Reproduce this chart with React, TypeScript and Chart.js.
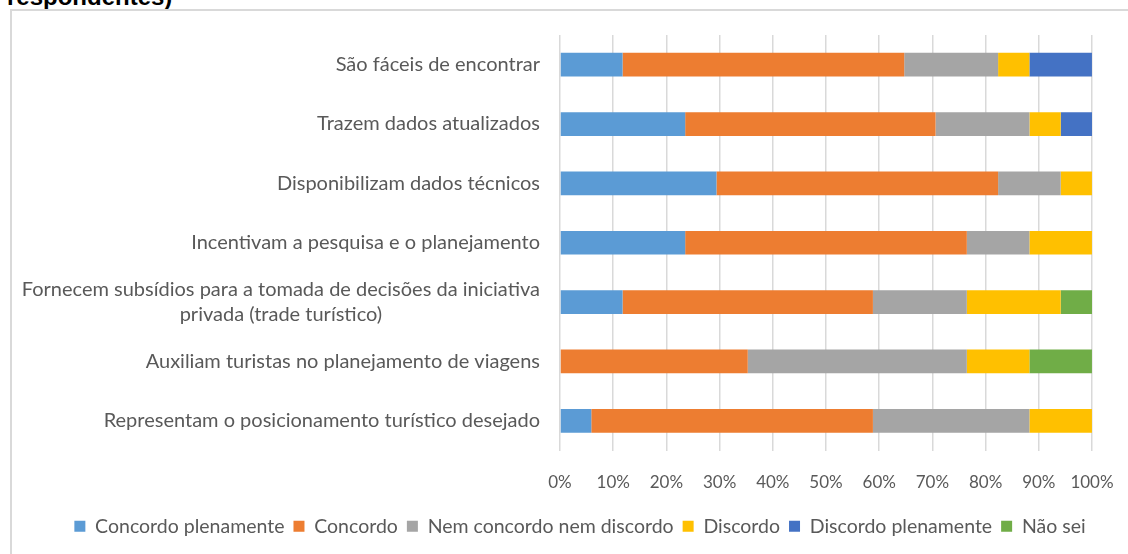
import React, { useEffect, useRef } from "react";
import { Chart, registerables } from "chart.js";

Chart.register(...registerables);

const categories: string[][] = [
  ["São fáceis de encontrar"],
  ["Trazem dados atualizados"],
  ["Disponibilizam dados técnicos"],
  ["Incentivam a pesquisa e o planejamento"],
  ["Fornecem subsídios para a tomada de decisões da iniciativa", "privada (trade turístico)"],
  ["Auxiliam turistas no planejamento de viagens"],
  ["Representam o posicionamento turístico desejado"],
];

const concordoPlenamente = [11.76, 23.53, 29.41, 23.53, 11.76, 0, 5.88];
const concordo = [52.94, 47.06, 52.94, 52.94, 47.06, 35.29, 52.94];
const nemConcordoNemDiscordo = [17.65, 17.65, 11.76, 11.76, 17.65, 41.18, 29.41];
const discordo = [5.88, 5.88, 5.88, 11.76, 17.65, 11.76, 11.76];
const discordoPlenamente = [11.76, 5.88, 0, 0, 0, 0, 0];
const naoSei = [0, 0, 0, 0, 5.88, 11.76, 0];

const seriesNames = [
  "Concordo plenamente",
  "Concordo",
  "Nem concordo nem discordo",
  "Discordo",
  "Discordo plenamente",
  "Não sei",
];
const seriesColors = ["#5B9BD5", "#ED7D31", "#A5A5A5", "#FFC000", "#4472C4", "#70AD47"];

const xTicks = [0, 10, 20, 30, 40, 50, 60, 70, 80, 90, 100];

const FONT = "Lato";
const TEXT_COLOR = "#595959";

const yLabelPlugin = {
  id: "yLabelPlugin",
  afterLayout(chart: any) {
    if (chart.legend) {
      chart.legend.left += 5;
      chart.legend.right += 5;
    }
  },
  afterDraw(chart: any) {
    const ctx = chart.ctx;
    const yScale = chart.scales.y;
    const rightX = chart.chartArea.left - 20;
    const lineH = 25;
    ctx.save();
    ctx.font = `20px ${FONT}`;
    ctx.fillStyle = TEXT_COLOR;
    ctx.textBaseline = "middle";
    categories.forEach((lines, i) => {
      const yc = yScale.getPixelForValue(i);
      if (lines.length === 1) {
        ctx.textAlign = "right";
        ctx.fillText(lines[0], rightX, yc);
      } else {
        const maxW = Math.max(...lines.map((l) => ctx.measureText(l).width));
        const cx = rightX - maxW / 2;
        ctx.textAlign = "center";
        lines.forEach((l, j) => {
          ctx.fillText(l, cx, yc + (j - (lines.length - 1) / 2) * lineH);
        });
      }
    });
    ctx.restore();
  },
};

export default function App() {
  const canvasRef = useRef<HTMLCanvasElement | null>(null);

  useEffect(() => {
    if (!canvasRef.current) return;
    const values = [
      concordoPlenamente,
      concordo,
      nemConcordoNemDiscordo,
      discordo,
      discordoPlenamente,
      naoSei,
    ];
    const chart = new Chart(canvasRef.current, {
      type: "bar",
      data: {
        labels: categories.map((c) => c.join(" ")),
        datasets: seriesNames.map((name, k) => ({
          label: name,
          data: values[k],
          backgroundColor: seriesColors[k],
          borderWidth: 0,
          barPercentage: 0.4,
          categoryPercentage: 1,
        })),
      },
      options: {
        indexAxis: "y",
        responsive: false,
        animation: false,
        maintainAspectRatio: false,
        layout: { padding: { left: 58, right: 36, top: 35, bottom: 8 } },
        plugins: {
          tooltip: { enabled: false },
          legend: {
            position: "bottom",
            labels: {
              boxWidth: 11,
              boxHeight: 11,
              color: TEXT_COLOR,
              font: { family: FONT, size: 19.5 },
              padding: 9,
            },
          },
        },
        scales: {
          x: {
            stacked: true,
            min: 0,
            max: 100,
            afterBuildTicks: (scale: any) => {
              scale.ticks = xTicks.map((v) => ({ value: v }));
            },
            afterFit: (scale: any) => {
              scale.height = 57;
              scale.paddingLeft = 0;
              scale.paddingRight = 0;
            },
            ticks: {
              color: TEXT_COLOR,
              font: { family: FONT, size: 17 },
              padding: 22,
              callback: (v: any) => v + "%",
              maxRotation: 0,
            },
            grid: { color: "#d9d9d9", lineWidth: 1.5, drawTicks: false },
            border: { display: false },
          },
          y: {
            stacked: true,
            ticks: { display: false },
            grid: { display: false },
            border: { display: false },
            afterFit: (scale: any) => {
              scale.width = 502;
            },
          },
        },
      },
      plugins: [yLabelPlugin],
    });
    return () => chart.destroy();
  }, []);

  return (
    <div
      style={{
        position: "fixed",
        left: 0,
        top: 0,
        width: 1128,
        height: 554,
        overflow: "hidden",
        background: "#ffffff",
      }}
    >
      <div
        style={{
          position: "absolute",
          left: 7,
          top: -15,
          font: `bold 24px 'Liberation Sans', Arial, sans-serif`,
          color: "#000000",
          whiteSpace: "nowrap",
          lineHeight: "24px",
        }}
      >
        respondentes)
      </div>
      <div
        style={{
          position: "absolute",
          left: 10,
          top: 9,
          width: 1140,
          height: 560,
          border: "2px solid #d9d9d9",
          boxSizing: "border-box",
        }}
      />
      <canvas
        ref={canvasRef}
        width={1128}
        height={554}
        style={{ position: "absolute", left: 0, top: 0, width: 1128, height: 554 }}
      />
    </div>
  );
}
